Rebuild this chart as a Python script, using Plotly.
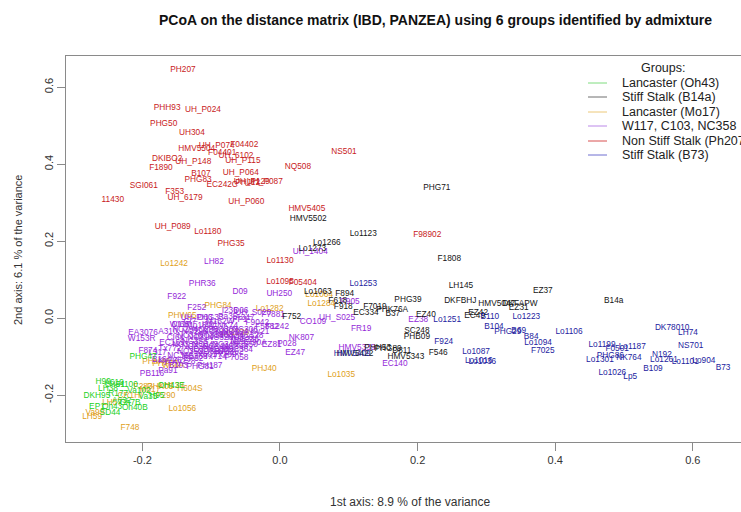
import plotly.graph_objects as go

# ---------------- data (PCoA coordinates) ----------------
names_red = ["PH207","PHH93","UH_P024","PHG50","UH304","HMV5504","UH_P074","F04402","F04401","UH_6102",
             "UH_P115","DKIBO2","UH_P148","F1890","NQ508","B107","UH_P064","PHG83","EC242C","UH_P129",
             "UH_P087","SGI061","F353","UH_6179","11430","UH_P060","UH_P089","Lo1180","PHG35","NS501",
             "HMV5405","F98902","Lo1130","Lo1095","F05404","PHJ12"]
x_red = [-0.141,-0.164,-0.112,-0.169,-0.128,-0.121,-0.092,-0.052,-0.084,-0.064,
         -0.054,-0.164,-0.126,-0.173,0.026,-0.115,-0.057,-0.119,-0.084,-0.041,
         -0.022,-0.198,-0.153,-0.138,-0.243,-0.049,-0.156,-0.105,-0.071,0.093,
         0.039,0.214,0.000,0.000,0.033,-0.047]
y_red = [0.644,0.545,0.540,0.504,0.481,0.439,0.447,0.449,0.429,0.421,
         0.408,0.413,0.405,0.390,0.392,0.374,0.377,0.358,0.345,0.353,
         0.353,0.343,0.327,0.312,0.306,0.301,0.236,0.223,0.192,0.431,
         0.283,0.216,0.148,0.094,0.091,0.351]

names_blk = ["PHG71","HMV5502","Lo1123","Lo1266","Lo1273","F1808","LH145","Lo1063","F894","F618",
             "F918","PHG39","DKFBHJ","F7019","PHK76A","B37","EC334","EZ40","F752","SC248",
             "PHB09","PHH53","PHG89","D811","HMV5422","HMV5343","F546","EZ37","HMV5047","DKFAPW",
             "EZ31","B14a","EC49","EZ42"]
x_blk = [0.228,0.041,0.121,0.068,0.047,0.246,0.263,0.055,0.094,0.084,
         0.092,0.186,0.262,0.138,0.163,0.164,0.125,0.212,0.017,0.199,
         0.199,0.142,0.157,0.177,0.109,0.183,0.230,0.382,0.315,0.349,
         0.347,0.485,0.283,0.288]
y_blk = [0.338,0.257,0.218,0.195,0.179,0.153,0.083,0.068,0.062,0.044,
         0.029,0.047,0.044,0.029,0.021,0.010,0.013,0.008,0.003,-0.034,
         -0.049,-0.078,-0.081,-0.086,-0.094,-0.101,-0.091,0.070,0.036,0.036,
         0.026,0.044,0.005,0.013]

names_blu = ["Lo1253","Lo1251","F924","HMV5409","Lo1087","Lo1016","Lo1036","B110","Lo1223","B104",
             "PHG29","B69","B84","Lo1094","Lo1106","F7025","Lo1199","F0501","Lo1187","PHG86",
             "NK764","Lo1301","Lo1026","Lp5","DK78010","LH74","NS701","N192","Lo1261","Lo1101",
             "Lo904","B109","B73"]
x_blu = [0.121,0.243,0.238,0.105,0.285,0.289,0.294,0.305,0.358,0.311,
         0.331,0.347,0.365,0.375,0.420,0.382,0.468,0.490,0.512,0.480,
         0.507,0.465,0.483,0.509,0.570,0.593,0.597,0.555,0.558,0.589,
         0.616,0.542,0.644]
y_blu = [0.088,-0.005,-0.062,-0.094,-0.088,-0.112,-0.114,0.003,0.003,-0.023,
         -0.036,-0.034,-0.049,-0.065,-0.036,-0.086,-0.070,-0.081,-0.075,-0.099,
         -0.104,-0.109,-0.143,-0.153,-0.026,-0.039,-0.073,-0.096,-0.109,-0.114,
         -0.112,-0.132,-0.130]

names_pur = ["LH82","UH_1404","PHR36","D09","F922","UH250","F905","UH_S025","CO109","EZ38",
             "FR19","NK807","EZ81","P028","EZ47","HMV5339","EC140","F252","EA3076","W153R",
             "F874","A310","PB116","Pa91","UH_S020","I236","D06","UH_D03","PHG33","Pa35",
             "A347","F7881","I221","NK74","FP1","F9042","F5882","F1242","NC236","N25",
             "B75","EP52","B103","PHG81","PH187","F7058","W117","NC358","C103","EC169"]
x_pur = [-0.096,0.044,-0.113,-0.058,-0.150,-0.001,0.102,0.083,0.048,0.201,
         0.118,0.031,-0.012,0.010,0.022,0.112,0.167,-0.121,-0.199,-0.201,
         -0.192,-0.163,-0.186,-0.163,-0.039,-0.073,-0.057,-0.121,-0.102,-0.076,
         -0.051,-0.010,-0.102,-0.076,-0.058,-0.033,-0.019,-0.004,-0.049,-0.061,
         -0.084,-0.126,-0.148,-0.116,-0.102,-0.063,-0.145,-0.124,-0.083,-0.157]
y_pur = [0.145,0.171,0.088,0.068,0.055,0.062,0.042,0.000,-0.010,-0.005,
         -0.029,-0.052,-0.070,-0.068,-0.091,-0.078,-0.119,0.026,-0.039,-0.055,
         -0.086,-0.036,-0.145,-0.138,0.013,0.018,0.018,0.000,0.000,0.003,
         0.000,0.008,-0.018,-0.021,-0.005,-0.013,-0.023,-0.023,-0.057,-0.062,
         -0.088,-0.106,-0.125,-0.127,-0.125,-0.104,-0.018,-0.062,-0.044,-0.065]

# dense core of the purple group (labels overprinted, estimated)
names_pur_core = ["NC294","NC296","NC298","NC300","NC302","NC304","NC306","NC310","NC314","NC318",
                  "NC320","NC324","NC326","NC328","NC332","NC336","NC342","NC344","NC346","NC348",
                  "NC350","NC352","NC354","NC356","NC360","NC362","NC364","NC366","NC368","Tx601",
                  "Tx714","Tx739","Tx772","CI64","CI66","CI7","CI90A","Ky21","Ky226","Ky228",
                  "M162W","Mo18W","B164","L317"]
x_pur_core = [-0.138,-0.124,-0.109,-0.094,-0.080,-0.065,-0.051,-0.131,-0.116,-0.101,
              -0.087,-0.072,-0.058,-0.043,-0.138,-0.124,-0.109,-0.094,-0.080,-0.065,
              -0.051,-0.131,-0.116,-0.101,-0.087,-0.072,-0.058,-0.145,-0.124,-0.109,
              -0.094,-0.080,-0.160,-0.152,-0.145,-0.131,-0.036,-0.029,-0.160,-0.140,
              -0.087,-0.116,-0.172,-0.178]
y_pur_core = [-0.031,-0.036,-0.031,-0.036,-0.031,-0.036,-0.031,-0.047,-0.052,-0.047,
              -0.052,-0.047,-0.052,-0.047,-0.070,-0.075,-0.070,-0.075,-0.070,-0.075,
              -0.070,-0.088,-0.083,-0.088,-0.083,-0.088,-0.083,-0.099,-0.101,-0.096,
              -0.101,-0.096,-0.080,-0.052,-0.018,-0.010,-0.065,-0.036,-0.112,-0.115,
              -0.010,-0.020,-0.110,-0.091]

names_org = ["Lo1242","PHG84","PHW65","Lo1282","Lo1064","Lo1284","PHJ40","Lo1035","Lo1230","Lo1056",
             "F748","LH59","CR1HI","LH123","H604S","P290","F283","PHK05","Mo17","LH57",
             "Va99","PHM49","W64A","PHT77"]
x_org = [-0.154,-0.090,-0.142,-0.015,0.057,0.060,-0.023,0.089,-0.065,-0.142,
         -0.218,-0.273,-0.218,-0.157,-0.131,-0.166,-0.199,-0.174,-0.189,-0.244,
         -0.269,-0.180,-0.155,-0.167]
y_org = [0.140,0.031,0.005,0.023,0.060,0.036,-0.132,-0.148,-0.039,-0.236,
         -0.286,-0.257,-0.203,-0.177,-0.184,-0.203,-0.179,-0.179,-0.187,-0.221,
         -0.247,-0.114,-0.125,-0.118]

names_grn = ["PHG47","H99","LH51","H100","DKH95","LH38","EP1","Oh43","Oh40B","Oh7B",
             "SD44","Va35","H95","OH43E","A619","R177","A632","Va102"]
x_grn = [-0.199,-0.257,-0.240,-0.221,-0.266,-0.250,-0.266,-0.244,-0.211,-0.218,
         -0.247,-0.192,-0.179,-0.158,-0.241,-0.235,-0.230,-0.205]
y_grn = [-0.101,-0.166,-0.174,-0.174,-0.203,-0.184,-0.231,-0.231,-0.234,-0.221,
         -0.247,-0.205,-0.203,-0.177,-0.169,-0.197,-0.215,-0.190]

group_labels = ["Lancaster (Oh43)", "Stiff Stalk (B14a)", "Lancaster (Mo17)",
                "W117, C103, NC358", "Non Stiff Stalk (Ph207)", "Stiff Stalk (B73)"]
x_ticks = [-0.2, 0.0, 0.2, 0.4, 0.6]
x_ticktext = ["-0.2", "0.0", "0.2", "0.4", "0.6"]
y_ticks = [-0.2, 0.0, 0.2, 0.4, 0.6]
y_ticktext = ["-0.2", "0.0", "0.2", "0.4", "0.6"]

# ---------------- styling ----------------
C_GRN, C_BLK, C_ORG, C_PUR, C_RED, C_BLU = "#22d022", "#141414", "#e0a020", "#9428d8", "#c81a22", "#1c1ca0"
LEG_COLS = ["#7fdc7f", "#6e6e6e", "#ecc878", "#bb88e8", "#d85050", "#6f6fd0"]
LABEL_FONT = "Liberation Sans Narrow, Arial Narrow, sans-serif"
SANS = "Liberation Sans, Arial, sans-serif"

W, H = 741, 512
L, R, T, B = 66, 0, 56, 70
PW, PH = W - L - R, H - T - B


def px(xp):
    return (xp - L) / PW


def py(yp):
    return (H - B - yp) / PH


fig = go.Figure()
groups = [
    (names_org, x_org, y_org, C_ORG),
    (names_pur, x_pur, y_pur, C_PUR),
    (names_pur_core, x_pur_core, y_pur_core, C_PUR),
    (names_grn, x_grn, y_grn, C_GRN),
    (names_red, x_red, y_red, C_RED),
    (names_blk, x_blk, y_blk, C_BLK),
    (names_blu, x_blu, y_blu, C_BLU),
]
for nm, xs, ys, col in groups:
    fig.add_trace(go.Scatter(x=xs, y=ys, text=nm, mode="text", textposition="middle center",
                             textfont=dict(family=LABEL_FONT, size=8.3, color=col),
                             showlegend=False, hoverinfo="text"))

axis_common = dict(showgrid=False, zeroline=False, showline=True, linecolor="#8a8a8a", linewidth=1,
                   ticks="outside", ticklen=8, tickcolor="#8a8a8a",
                   tickfont=dict(family=SANS, size=11, color="#333"))
fig.update_xaxes(range=[-0.311, 0.670], tickvals=x_ticks, ticktext=x_ticktext, mirror=True, **axis_common)
fig.update_yaxes(range=[-0.322, 0.681], tickvals=y_ticks, ticktext=y_ticktext, tickangle=-90, **axis_common)

ann = []
ann.append(dict(text="<b>PCoA on the distance matrix (IBD, PANZEA) using 6 groups identified by admixture</b>",
                x=px(435), y=py(20), xref="paper", yref="paper", showarrow=False,
                xanchor="center", yanchor="middle",
                font=dict(family=SANS, size=14, color="#111")))
ann.append(dict(text="1st axis: 8.9 % of the variance", x=px(410), y=py(502), xref="paper", yref="paper",
                showarrow=False, xanchor="center", yanchor="middle",
                font=dict(family=LABEL_FONT, size=12, color="#333")))
ann.append(dict(text="2nd axis: 6.1 % of the variance", x=px(18), y=py(250), xref="paper", yref="paper",
                showarrow=False, xanchor="center", yanchor="middle", textangle=-90,
                font=dict(family=SANS, size=11, color="#333")))
# legend
ann.append(dict(text="Groups:", x=px(663), y=py(68), xref="paper", yref="paper", showarrow=False,
                xanchor="center", yanchor="middle",
                font=dict(family=SANS, size=12.5, color="#222")))
shapes = []
leg_y = [83, 97, 112, 126, 141, 155]
for lab, col, yy in zip(group_labels, LEG_COLS, leg_y):
    ann.append(dict(text=lab, x=px(620), y=py(yy), xref="paper", yref="paper", showarrow=False,
                    xanchor="left", yanchor="middle",
                    font=dict(family=SANS, size=12.5, color="#222")))
    shapes.append(dict(type="line", xref="paper", yref="paper", x0=px(588), x1=px(607),
                       y0=py(yy), y1=py(yy), line=dict(color=col, width=1)))

fig.update_layout(width=W, height=H, margin=dict(l=L, r=R, t=T, b=B),
                  plot_bgcolor="white", paper_bgcolor="white",
                  annotations=ann, shapes=shapes, showlegend=False)

fig.write_html("out.html")
